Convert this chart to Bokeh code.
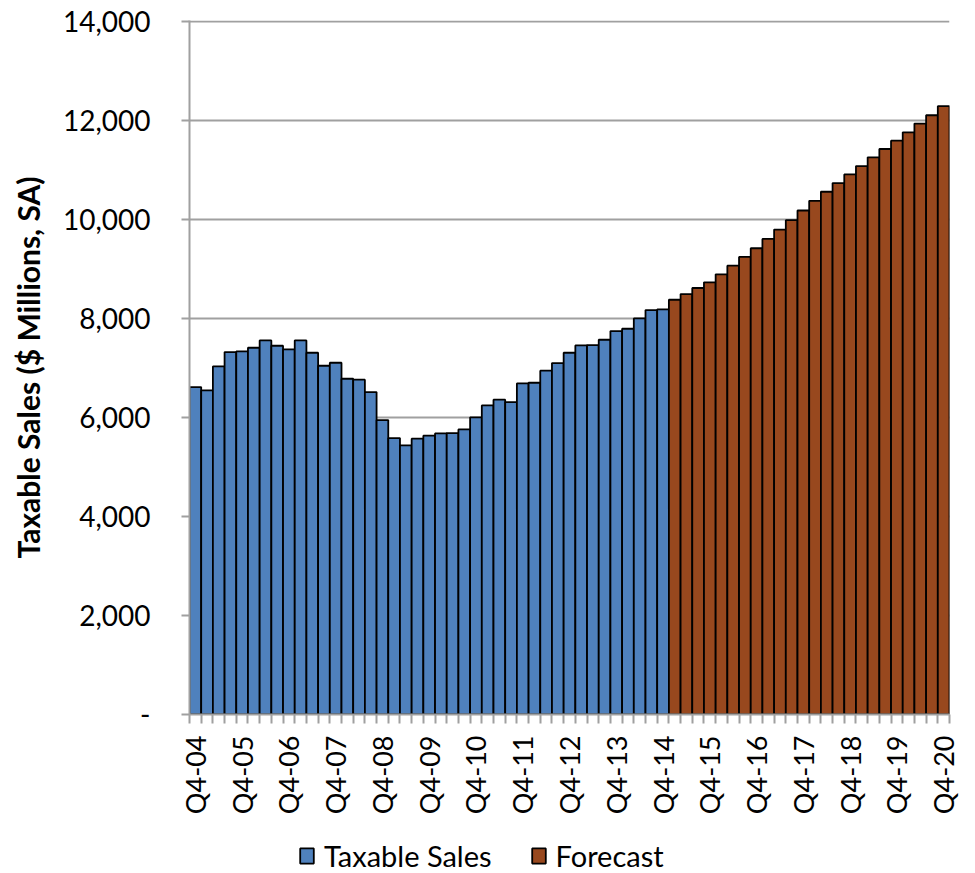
import math
from bokeh.plotting import figure
from bokeh.layouts import column
from bokeh.models import Range1d, FixedTicker, NumeralTickFormatter, Legend, LegendItem, ColumnDataSource
from bokeh.embed import file_html
from bokeh.resources import INLINE

# ---- data ----
tick_labels = ["Q4-04", "Q4-05", "Q4-06", "Q4-07", "Q4-08", "Q4-09", "Q4-10", "Q4-11", "Q4-12",
               "Q4-13", "Q4-14", "Q4-15", "Q4-16", "Q4-17", "Q4-18", "Q4-19", "Q4-20"]

taxable_sales = [6620, 6552, 7037, 7327, 7340, 7414, 7562, 7455, 7380, 7562,
                 7313, 7050, 7111, 6788, 6768, 6518, 5953, 5589, 5441, 5576,
                 5636, 5683, 5690, 5764, 6007, 6249, 6364, 6316, 6694, 6707,
                 6950, 7104, 7313, 7461, 7468, 7576, 7751, 7798, 8007, 8175, 8189]

forecast = [8385, 8500, 8622, 8736, 8898, 9074, 9250, 9426, 9615, 9804,
            9993, 10189, 10385, 10568, 10743, 10919, 11088, 11263, 11432, 11601,
            11770, 11946, 12115, 12297]

y_ticks = [0, 2000, 4000, 6000, 8000, 10000, 12000, 14000]
series_names = ["Taxable Sales", "Forecast"]
series_colors = ["#4F81BD", "#98481E"]

# ---- main chart ----
n_hist = len(taxable_sales)
n_all = n_hist + len(forecast)
hist_src = ColumnDataSource(dict(x=list(range(n_hist)), top=taxable_sales))
fc_src = ColumnDataSource(dict(x=list(range(n_hist, n_all)), top=forecast))

chart = figure(width=975, height=821, output_backend="svg", toolbar_location=None,
               x_range=Range1d(-0.5, n_all - 0.5), y_range=Range1d(0, 14030),
               min_border_left=189, min_border_right=26, min_border_top=20, min_border_bottom=107)

chart.outline_line_color = None
chart.background_fill_color = "white"
chart.border_fill_color = "white"

chart.vbar(x="x", top="top", width=1, bottom=0, source=hist_src,
           fill_color=series_colors[0], line_color="black", line_width=1.8)
chart.vbar(x="x", top="top", width=1, bottom=0, source=fc_src,
           fill_color=series_colors[1], line_color="black", line_width=1.8)

FONT = "Lato"
GRAY = "#A0A0A0"

# y axis
yax = chart.yaxis[0]
yax.ticker = FixedTicker(ticks=y_ticks)
yax.formatter = NumeralTickFormatter(format="0,0")
yax.major_label_overrides = {0: "-"}
yax.major_label_text_font = FONT
yax.major_label_text_font_size = "28px"
yax.major_label_text_color = "black"
yax.major_label_standoff = 31
yax.major_tick_out = 8
yax.major_tick_in = 0
yax.minor_tick_out = 0
yax.minor_tick_in = 0
yax.major_tick_line_color = GRAY
yax.major_tick_line_width = 2
yax.axis_line_color = GRAY
yax.axis_line_width = 2
yax.axis_label = "Taxable Sales ($ Millions, SA)"
yax.axis_label_text_font = FONT
yax.axis_label_text_font_style = "bold"
yax.axis_label_text_font_size = "30px"
yax.axis_label_text_color = "black"
yax.axis_label_standoff = 14

# x axis
xax = chart.xaxis[0]
major_pos = list(range(0, n_all, 4))
xax.ticker = FixedTicker(ticks=major_pos, minor_ticks=[i - 0.5 for i in range(n_all + 1)])
xax.major_label_overrides = {pos: lab for pos, lab in zip(major_pos, tick_labels)}
xax.major_label_orientation = math.pi / 2
xax.major_label_text_font = FONT
xax.major_label_text_font_size = "27px"
xax.major_label_text_color = "black"
xax.major_label_standoff = 12
xax.major_tick_out = 0
xax.major_tick_in = 0
xax.minor_tick_out = 9
xax.minor_tick_in = 0
xax.minor_tick_line_color = GRAY
xax.minor_tick_line_width = 2
xax.axis_line_color = GRAY
xax.axis_line_width = 2

chart.xgrid.visible = False
chart.ygrid.grid_line_color = GRAY
chart.ygrid.grid_line_width = 2
chart.ygrid.ticker = FixedTicker(ticks=y_ticks)

# ---- legend strip (frame aligned with the chart's frame by the column) ----
leg = figure(width=975, height=52, output_backend="svg", toolbar_location=None,
             x_axis_type=None, y_axis_type=None, min_border=0,
             x_range=Range1d(0, 1), y_range=Range1d(0, 1))
leg.outline_line_color = None
leg.grid.visible = False
items = []
for name, col in zip(series_names, series_colors):
    # swatch-only renderer: a single zero-size bar, so only its legend glyph is visible
    r = leg.vbar(x="x", top="top", width=0, bottom=0,
                 source=ColumnDataSource(dict(x=[0.5], top=[0.0])),
                 fill_color=col, line_color="black", line_width=1.8)
    items.append(LegendItem(label=name, renderers=[r]))

legend = Legend(items=items, orientation="horizontal", location=(109, 0),
                label_text_font=FONT, label_text_font_size="29px", label_text_color="black",
                glyph_width=17, glyph_height=19, label_standoff=9, spacing=38,
                padding=0, margin=0, border_line_color=None, background_fill_alpha=0)
leg.add_layout(legend, "center")

p = column(chart, leg, spacing=0)

open("out.html", "w").write(file_html(p, INLINE))
